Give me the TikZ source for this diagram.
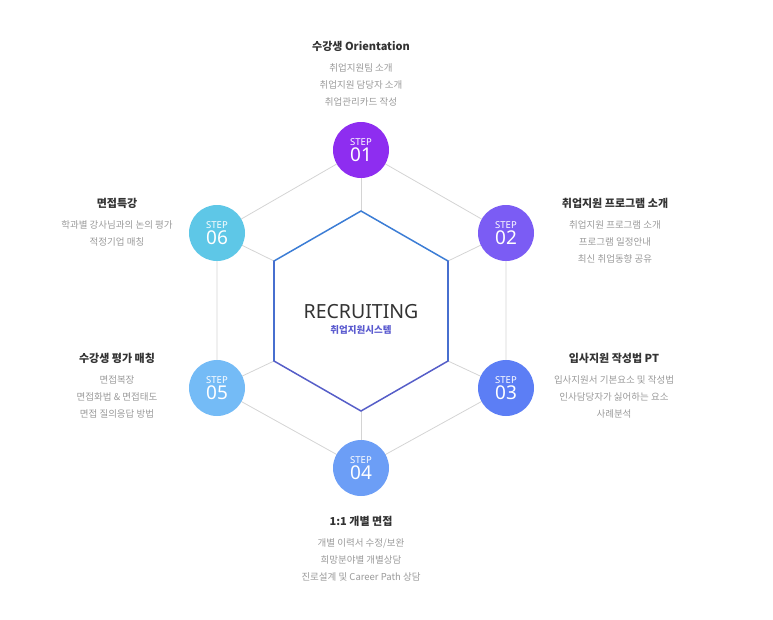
\documentclass[tikz,border=0pt]{standalone}
\usepackage{fontspec}
\setmainfont{Noto Sans CJK KR}
\newfontfamily\numfont{Noto Sans}
\usetikzlibrary{positioning}
\definecolor{stepA}{HTML}{8E2DF0}
\definecolor{stepB}{HTML}{7B5CF4}
\definecolor{stepC}{HTML}{5C7EF5}
\definecolor{stepD}{HTML}{6C9EF6}
\definecolor{stepE}{HTML}{74BBF6}
\definecolor{stepF}{HTML}{5EC7E7}
\definecolor{hexTop}{HTML}{3C7DD5}
\definecolor{hexMid}{HTML}{476FCF}
\definecolor{hexBot}{HTML}{565EC8}
\definecolor{titlegray}{HTML}{333333}
\definecolor{descgray}{HTML}{9A9A9A}
\definecolor{linegray}{HTML}{D4D4D4}
\definecolor{subblue}{HTML}{5A5ACF}
\newcommand{\stepnum}[1]{{\bfseries STEP}\\{\fontsize{19}{19}\selectfont #1}}

\begin{document}
\begin{tikzpicture}[
    x=1pt, y=-1pt,
    stepnode/.style={circle, minimum size=56pt, inner sep=0pt, text=white, align=center,
      font=\numfont\fontsize{9.5}{16}\selectfont},
    ttl/.style={font=\fontsize{11}{13}\selectfont\bfseries, text=titlegray, inner sep=0pt},
    dsc/.style={font=\fontsize{9.5}{17}\selectfont, text=descgray, align=center, inner sep=0pt},
    spoke/.style={draw=linegray, line width=0.8pt},
    hexline/.style={line width=1.5pt, line cap=round}
  ]
    \useasboundingbox (0,0) rectangle (773,619);
    % hexagon corners
    \coordinate (o1) at (361,150);
    \coordinate (o2) at (506,233);
    \coordinate (o3) at (506,388);
    \coordinate (o4) at (361,468);
    \coordinate (o5) at (217,388);
    \coordinate (o6) at (217,233);
    \coordinate (i1) at (361,211);
    \coordinate (i2) at (448,261);
    \coordinate (i3) at (448,361);
    \coordinate (i4) at (361,411);
    \coordinate (i5) at (274,361);
    \coordinate (i6) at (274,261);
    % outer ring and spokes
    \draw[spoke] (o1) -- (o2) -- (o3) -- (o4) -- (o5) -- (o6) -- cycle;
    \draw[spoke] (o1) -- (i1);
    \draw[spoke] (o2) -- (i2);
    \draw[spoke] (o3) -- (i3);
    \draw[spoke] (o4) -- (i4);
    \draw[spoke] (o5) -- (i5);
    \draw[spoke] (o6) -- (i6);
    % inner hexagon
    \draw[hexline, hexTop] (i6) -- (i1) -- (i2);
    \draw[hexline, hexMid] (i2) -- (i3);
    \draw[hexline, hexMid] (i5) -- (i6);
    \draw[hexline, hexBot] (i3) -- (i4) -- (i5);
    \node[inner sep=0pt, font=\numfont\fontsize{19.5}{20}\selectfont, text=titlegray] (rec) at (361,312) {RECRUITING};
    \node[inner sep=0pt, font=\fontsize{9.5}{11}\selectfont\bfseries, text=subblue, below=6pt of rec] (sys) {취업지원시스템};
    % steps
    \node[stepnode, fill=stepA] (s1) at (o1) {\stepnum{01}};
    \node[stepnode, fill=stepB] (s2) at (o2) {\stepnum{02}};
    \node[stepnode, fill=stepC] (s3) at (o3) {\stepnum{03}};
    \node[stepnode, fill=stepD] (s4) at (o4) {\stepnum{04}};
    \node[stepnode, fill=stepE] (s5) at (o5) {\stepnum{05}};
    \node[stepnode, fill=stepF] (s6) at (o6) {\stepnum{06}};
    % texts
    \node[ttl] (t1) at (361,46) {수강생 Orientation};
    \node[dsc, below=12pt of t1] (d1) {취업지원팀 소개\\취업지원 담당자 소개\\취업관리카드 작성};
    \node[ttl] (t2) at (615,203) {취업지원 프로그램 소개};
    \node[dsc, below=12pt of t2] (d2) {취업지원 프로그램 소개\\프로그램 일정안내\\최신 취업동향 공유};
    \node[ttl] (t3) at (614,358) {입사지원 작성법 PT};
    \node[dsc, below=12pt of t3] (d3) {입사지원서 기본요소 및 작성법\\인사담당자가 싫어하는 요소\\사례분석};
    \node[ttl] (t4) at (361,521) {1:1 개별 면접};
    \node[dsc, below=12pt of t4] (d4) {개별 이력서 수정/보완\\희망분야별 개별상담\\진로설계 및 Career Path 상담};
    \node[ttl] (t5) at (117,358) {수강생 평가 매칭};
    \node[dsc, below=12pt of t5] (d5) {면접복장\\면접화법 \& 면접태도\\면접 질의응답 방법};
    \node[ttl] (t6) at (117,203) {면접특강};
    \node[dsc, below=12pt of t6] (d6) {학과별 강사님과의 논의 평가\\적정기업 매칭};
  \end{tikzpicture}
\end{document}
